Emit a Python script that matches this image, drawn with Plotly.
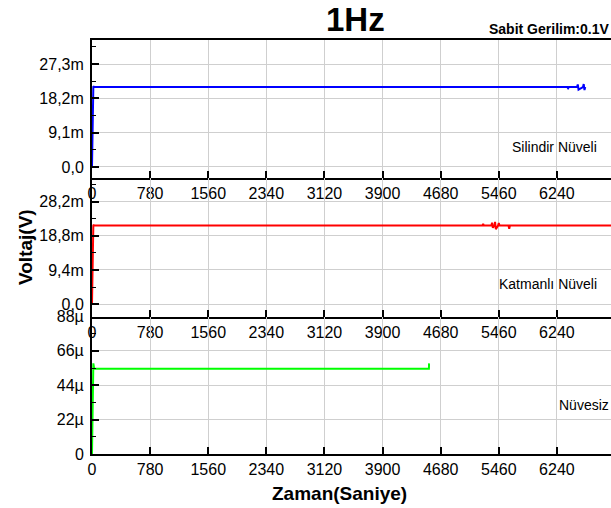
import plotly.graph_objects as go

# ---- data ----
x_ticks = [0, 780, 1560, 2340, 3120, 3900, 4680, 5460, 6240]
x_tick_text = [str(v) for v in x_ticks]

# Silindir Nüveli (volts)
blue_x = [0, 10, 18, 30, 6380, 6390, 6400, 6510, 6520, 6530, 6590, 6600, 6610, 6620]
blue_y = [0.0, 0.0205, 0.0214, 0.0212, 0.0212, 0.0209, 0.0212, 0.0212, 0.0219, 0.0205, 0.0212, 0.0220, 0.0204, 0.0212]

# Katmanlı Nüveli (volts)
red_x = [0, 10, 18, 30, 5240, 5250, 5260, 5360, 5370, 5380, 5400, 5410, 5420,
         5450, 5460, 5470, 5590, 5600, 5610, 6970]
red_y = [0.0, 0.0210, 0.0218, 0.0216, 0.0216, 0.0221, 0.0216, 0.0216, 0.0224, 0.0210, 0.0216, 0.0226, 0.0206,
         0.0216, 0.0223, 0.0216, 0.0216, 0.0207, 0.0216, 0.0216]

# Nüvesiz (volts)
green_x = [0, 10, 18, 30, 4515, 4522, 4524]
green_y = [0.0, 4.0e-5, 5.8e-5, 5.45e-5, 5.45e-5, 5.45e-5, 5.8e-5]

top_tickvals = [0, 0.0091, 0.0182, 0.0273]
top_ticktext = ["0,0", "9,1m", "18,2m", "27,3m"]
mid_tickvals = [0, 0.0094, 0.0188, 0.0282]
mid_ticktext = ["0,0", "9,4m", "18,8m", "28,2m"]
bot_tickvals = [0, 22e-6, 44e-6, 66e-6, 88e-6]
bot_ticktext = ["0", "22µ", "44µ", "66µ", "88µ"]

FONT = "Liberation Sans, Arial, sans-serif"

fig = go.Figure()
fig.add_trace(go.Scatter(x=blue_x, y=blue_y, mode="lines", line=dict(color="#0000FF", width=2),
                         xaxis="x", yaxis="y", showlegend=False))
fig.add_trace(go.Scatter(x=red_x, y=red_y, mode="lines", line=dict(color="#FF0000", width=2),
                         xaxis="x2", yaxis="y2", showlegend=False))
fig.add_trace(go.Scatter(x=green_x, y=green_y, mode="lines", line=dict(color="#00FF00", width=2),
                         xaxis="x3", yaxis="y3", showlegend=False))

XR = [0, 6966]
GRID = "#cfcfcf"


def xax(anchor, mirror=False):
    return dict(range=XR, anchor=anchor, tickmode="array", tickvals=x_ticks, ticktext=x_tick_text,
                ticks="inside", ticklen=7, tickwidth=1.5, tickcolor="black",
                showline=True, linecolor="black", linewidth=2, mirror=mirror,
                showgrid=True, gridcolor=GRID, gridwidth=1, zeroline=False,
                tickfont=dict(family=FONT, size=16, color="black"), fixedrange=True)


def yax(anchor, domain, rng, vals, text):
    minor_vals = [(vals[i] + vals[i + 1]) / 2 for i in range(len(vals) - 1)]
    if rng[1] > vals[-1] + (vals[1] - vals[0]) / 2:
        minor_vals.append(vals[-1] + (vals[1] - vals[0]) / 2)
    return dict(domain=domain, range=rng, anchor=anchor, tickmode="array", tickvals=vals, ticktext=text,
                ticks="inside", ticklen=7, tickwidth=1.5, tickcolor="black", ticklabelstandoff=3,
                minor=dict(tickmode="array", tickvals=minor_vals, ticks="inside", ticklen=4,
                           tickwidth=1.2, tickcolor="black", showgrid=False),
                showline=True, linecolor="black", linewidth=2,
                showgrid=True, gridcolor=GRID, gridwidth=1, zeroline=False,
                tickfont=dict(family=FONT, size=16, color="black"), fixedrange=True)


fig.update_layout(
    width=611, height=508,
    margin=dict(l=92, r=0, t=40, b=54),
    paper_bgcolor="white", plot_bgcolor="white",
    xaxis=xax("y", mirror=True),
    xaxis2=xax("y2"),
    xaxis3=xax("y3"),
    yaxis=yax("x", [0.6676, 1.0], [-0.00284, 0.0337], top_tickvals, top_ticktext),
    yaxis2=yax("x2", [0.3321, 0.6676], [-0.0034, 0.0348], mid_tickvals, mid_ticktext),
    yaxis3=yax("x3", [0.0, 0.3321], [0, 88e-6], bot_tickvals, bot_ticktext),
    annotations=[
        dict(text="<b>1Hz</b>", x=355, y=19, xref="paper", yref="paper", showarrow=False,
             font=dict(family=FONT, size=33, color="black")),
        dict(text="<b>Sabit Gerilim:0.1V</b>", x=1.0, y=1.0, xref="paper", yref="paper",
             xanchor="right", yanchor="bottom", yshift=1, showarrow=False,
             font=dict(family=FONT, size=14, color="black")),
        dict(text="<b>Voltaj(V)</b>", x=0, y=0.5, xref="paper", yref="paper", textangle=-90,
             xanchor="center", yanchor="middle", xshift=-67, showarrow=False,
             font=dict(family=FONT, size=19, color="black")),
        dict(text="<b>Zaman(Saniye)</b>", x=0.477, y=0, xref="paper", yref="paper",
             xanchor="center", yanchor="top", yshift=-27, showarrow=False,
             font=dict(family=FONT, size=19, color="black")),
        dict(text="Silindir Nüveli", x=599, y=147, xref="paper", yref="paper", showarrow=False),
        dict(text="Katmanlı Nüveli", x=599, y=284, xref="paper", yref="paper", showarrow=False),
        dict(text="Nüvesiz", x=611, y=405, xref="paper", yref="paper", showarrow=False),
    ],
)

# convert pixel-positioned annotations to paper coords
W, H = 611, 508
L, R, T, B = 92, 0, 40, 54
pw, ph = W - L - R, H - T - B
anns = list(fig.layout.annotations)
new = []
for i, a in enumerate(anns):
    a = a.to_plotly_json()
    if i == 0:
        a["x"] = (a["x"] - L) / pw
        a["y"] = (H - B - a["y"]) / ph
        a["yanchor"] = "middle"
    elif i >= 4:
        a["x"] = (a["x"] - L) / pw
        a["y"] = (H - B - a["y"]) / ph
        a["xanchor"] = "right"
        a["yanchor"] = "middle"
        a["font"] = dict(family=FONT, size=14, color="black")
    new.append(a)
fig.update_layout(annotations=new)

fig.write_html("out.html")
